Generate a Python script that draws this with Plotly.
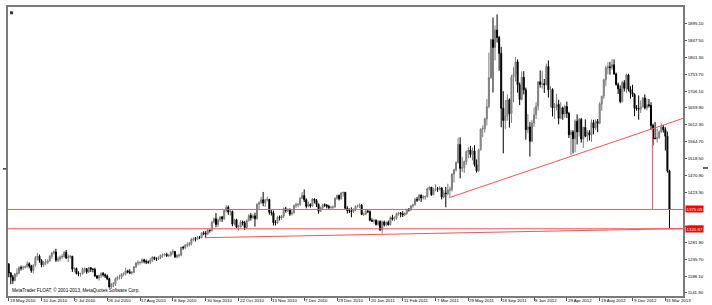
import plotly.graph_objects as go

# ---------------- data (XAUUSD, daily May 2010 - Mar 2011, then weekly to Apr 2013) ----------------
opens = [1222,1197,1186,1176,1194,1197,1212,1211,1213,1215,1223,1217,1204,1219,1240,1244,1232,1220,1227,1227,
         1231,1244,1253,1256,1233,1236,1242,1243,1255,1239,1242,1244,1208,1210,1196,1194,1195,1208,1209,1200,
         1212,1208,1207,1189,1183,1190,1196,1192,1189,1181,1158,1165,1167,1181,1185,1186,1194,1196,1203,1200,
         1197,1199,1214,1225,1226,1227,1234,1230,1228,1227,1233,1241,1238,1237,1240,1247,1248,1249,1246,1247,
         1255,1257,1242,1246,1247,1269,1268,1275,1276,1279,1291,1293,1292,1297,1296,1309,1308,1307,1317,1316,
         1340,1349,1333,1346,1354,1349,1372,1381,1368,1369,1334,1346,1325,1326,1340,1338,1324,1344,1358,1352,
         1357,1349,1389,1394,1402,1393,1402,1403,1367,1366,1338,1337,1353,1352,1357,1377,1372,1375,1362,1366,
         1386,1388,1389,1406,1414,1402,1384,1389,1385,1404,1400,1389,1370,1379,1388,1387,1384,1380,1381,1382,
         1406,1414,1405,1421,1423,1378,1372,1371,1369,1375,1384,1385,1387,1361,1362,1370,1369,1345,1342,1344,
         1333,1342,1318,1340,1332,1339,1332,1352,1348,1350,1364,1365,1363,1360,1364,1375,1374,1385,1388,1403,
         1401,1415,1407,1410,1411,1433,1437,1416,1430,1433,1432,1435,1410,
         1421,1419,1429,1431,1474,1486,1506,1557,1490,1492,1509,1537,1541,1529,1539,1500,1483,1542,1600,1601,
         1628,1663,1744,1850,1828,1877,1856,1812,1658,1624,1636,1682,1643,1745,1753,1788,1724,1683,1745,1710,
         1598,1606,1566,1617,1640,1664,1732,1725,1727,1724,1775,1710,1711,1659,1663,1669,1630,1659,1642,1663,
         1644,1584,1592,1573,1622,1592,1627,1572,1605,1580,1590,1584,1618,1603,1621,1616,1670,1692,1738,1771,
         1774,1772,1780,1754,1724,1712,1677,1730,1714,1751,1711,1702,1697,1658,1657,1656,1662,1687,1659,1668,
         1666,1610,1574,1573,1576,1592,1606,1598,1580,1483]
highs = [1225,1200,1192,1197,1210,1216,1218,1218,1218,1230,1227,1220,1221,1245,1253,1249,1236,1230,1236,1235,
         1247,1256,1261,1265,1243,1246,1250,1259,1262,1249,1248,1245,1213,1212,1202,1198,1212,1213,1211,1214,
         1214,1211,1212,1192,1193,1199,1200,1196,1193,1184,1170,1172,1185,1189,1192,1197,1199,1212,1206,1208,
         1203,1217,1228,1233,1230,1238,1237,1235,1232,1240,1244,1243,1241,1244,1249,1252,1253,1254,1250,1258,
         1264,1259,1250,1251,1271,1273,1278,1283,1284,1295,1297,1298,1300,1301,1312,1314,1315,1321,1319,1342,
         1352,1365,1350,1356,1357,1374,1387,1386,1375,1372,1349,1349,1332,1345,1344,1343,1347,1362,1365,1362,
         1366,1393,1398,1410,1424,1405,1411,1405,1373,1372,1345,1357,1358,1360,1381,1382,1378,1378,1373,1389,
         1394,1393,1410,1424,1431,1406,1397,1392,1407,1406,1404,1392,1383,1391,1392,1390,1388,1384,1386,1409,
         1416,1417,1424,1424,1424,1384,1378,1381,1378,1386,1389,1392,1390,1366,1375,1375,1372,1350,1348,1348,
         1345,1344,1344,1344,1342,1344,1356,1360,1356,1366,1368,1368,1370,1367,1377,1379,1387,1391,1408,1410,
         1418,1417,1415,1414,1436,1440,1438,1436,1445,1438,1440,1437,1429,
         1438,1447,1439,1476,1489,1510,1576,1577,1522,1512,1540,1549,1553,1548,1555,1515,1545,1602,1610,1632,
         1684,1814,1853,1912,1890,1921,1861,1830,1706,1681,1697,1686,1752,1773,1802,1795,1730,1761,1762,1716,
         1642,1620,1626,1660,1675,1734,1764,1763,1740,1783,1792,1720,1714,1673,1699,1682,1675,1663,1668,1677,
         1648,1598,1597,1627,1641,1631,1631,1606,1627,1597,1597,1627,1626,1627,1628,1675,1693,1741,1777,1787,
         1788,1796,1795,1758,1730,1722,1735,1737,1755,1755,1720,1724,1700,1667,1694,1680,1690,1697,1685,1684,
         1675,1615,1620,1601,1596,1616,1611,1605,1593,1486]
lows = [1185,1166,1167,1174,1186,1193,1204,1205,1210,1212,1210,1198,1196,1215,1233,1226,1213,1214,1219,1222,
        1229,1237,1249,1228,1228,1230,1236,1240,1236,1228,1238,1200,1199,1193,1188,1187,1193,1198,1195,1197,
        1200,1199,1186,1180,1176,1183,1187,1183,1177,1156,1155,1157,1161,1176,1179,1180,1189,1190,1196,1194,
        1193,1196,1211,1218,1220,1224,1224,1222,1223,1222,1228,1233,1231,1233,1236,1240,1243,1242,1241,1243,
        1248,1239,1238,1240,1244,1262,1264,1269,1271,1274,1286,1285,1289,1292,1294,1303,1295,1303,1310,1313,
        1336,1325,1326,1340,1340,1346,1366,1360,1358,1328,1330,1322,1316,1324,1330,1318,1320,1341,1344,1348,
        1327,1347,1375,1390,1384,1382,1397,1360,1358,1330,1330,1334,1344,1346,1351,1366,1368,1357,1358,1363,
        1379,1381,1385,1404,1396,1378,1381,1380,1383,1392,1382,1363,1368,1374,1382,1378,1376,1377,1376,1380,
        1402,1400,1402,1411,1376,1364,1365,1353,1365,1370,1380,1379,1359,1357,1359,1365,1342,1340,1335,1330,
        1328,1315,1308,1327,1328,1330,1330,1344,1342,1346,1358,1353,1354,1356,1360,1369,1371,1380,1386,1396,
        1399,1396,1403,1402,1408,1428,1413,1415,1426,1424,1428,1403,1406,
        1381,1415,1410,1425,1450,1481,1504,1462,1480,1477,1500,1518,1520,1512,1495,1478,1480,1540,1577,1590,
        1610,1658,1740,1702,1792,1842,1763,1605,1532,1600,1623,1604,1617,1675,1733,1702,1667,1680,1697,1570,
        1588,1523,1563,1606,1628,1652,1716,1713,1701,1722,1688,1661,1635,1628,1652,1613,1628,1626,1632,1631,
        1575,1527,1532,1535,1557,1579,1562,1547,1577,1564,1568,1564,1585,1597,1591,1614,1651,1685,1720,1753,
        1752,1765,1752,1722,1698,1672,1674,1705,1701,1705,1685,1690,1636,1651,1626,1645,1660,1655,1652,1660,
        1598,1554,1572,1562,1572,1590,1590,1540,1478,1321]
closes = [1197,1186,1176,1194,1197,1212,1211,1213,1215,1223,1217,1204,1219,1240,1244,1232,1220,1227,1227,1231,
          1244,1253,1256,1233,1236,1242,1243,1255,1239,1242,1244,1208,1210,1196,1194,1195,1208,1209,1200,1212,
          1208,1207,1189,1183,1190,1196,1192,1189,1181,1158,1165,1167,1181,1185,1186,1194,1196,1203,1200,1197,
          1199,1214,1225,1226,1227,1234,1230,1228,1227,1233,1241,1238,1237,1240,1247,1248,1249,1246,1247,1255,
          1257,1242,1246,1247,1269,1268,1275,1276,1279,1291,1293,1292,1297,1296,1309,1308,1307,1317,1316,1340,
          1349,1333,1346,1354,1349,1372,1381,1368,1369,1334,1346,1325,1326,1340,1338,1324,1344,1358,1352,1357,
          1349,1389,1394,1402,1393,1402,1403,1367,1366,1338,1337,1353,1352,1357,1377,1372,1375,1362,1366,1386,
          1388,1389,1406,1414,1402,1384,1389,1385,1404,1400,1389,1370,1379,1388,1387,1384,1380,1381,1382,1406,
          1414,1405,1421,1423,1378,1372,1371,1369,1375,1384,1385,1387,1361,1362,1370,1369,1345,1342,1344,1333,
          1342,1318,1340,1332,1339,1332,1352,1348,1350,1364,1365,1363,1360,1364,1375,1374,1385,1388,1403,1401,
          1415,1407,1410,1411,1433,1437,1416,1430,1433,1432,1435,1410,1421,
          1419,1429,1431,1474,1486,1506,1557,1490,1492,1509,1537,1541,1529,1539,1500,1483,1542,1600,1601,1628,
          1663,1744,1850,1828,1877,1856,1812,1658,1624,1636,1682,1643,1745,1753,1788,1724,1683,1745,1710,1598,
          1606,1566,1617,1640,1664,1732,1725,1727,1724,1775,1710,1711,1659,1663,1669,1630,1659,1642,1663,1644,
          1584,1592,1573,1622,1592,1627,1572,1605,1580,1590,1584,1618,1603,1621,1616,1670,1692,1738,1771,1774,
          1772,1780,1754,1724,1712,1677,1730,1714,1751,1711,1702,1697,1658,1657,1656,1662,1687,1659,1668,1666,
          1610,1574,1573,1576,1592,1606,1598,1580,1483,1375]
bar_index = list(range(len(closes)))

x_tick_positions = [0, 16, 32, 48, 64, 80, 96, 112, 128, 144, 160, 176, 192, 208, 224, 240, 256, 272, 288, 304, 320]
x_tick_labels = ["19 May 2010", "10 Jun 2010", "2 Jul 2010", "26 Jul 2010", "17 Aug 2010", "8 Sep 2010",
                 "30 Sep 2010", "22 Oct 2010", "15 Nov 2010", "7 Dec 2010", "29 Dec 2010", "20 Jan 2011",
                 "11 Feb 2011", "7 Mar 2011", "29 May 2011", "18 Sep 2011", "8 Jan 2012", "29 Apr 2012",
                 "19 Aug 2012", "9 Dec 2012", "31 Mar 2013"]
y_tick_values = [1141.90, 1188.10, 1235.70, 1281.90, 1328.50, 1423.30, 1470.90, 1518.50, 1564.70,
                 1612.30, 1659.90, 1706.10, 1753.70, 1801.30, 1847.50, 1895.10]
y_tick_labels = ["%.2f" % v for v in y_tick_values]

# user-drawn objects
price_levels = [1375.05, 1320.87]
upper_trend_x = [214.6, 328.8]
upper_trend_y = [1407.9, 1630.3]
lower_trend_x = [95.6, 328.8]
lower_trend_y = [1295.9, 1321.5]
vline_x = 313.7
vline_y = [1375.05, 1600.9]

RED = "#ff5050"

fig = go.Figure()
fig.add_trace(go.Candlestick(
    x=bar_index, open=opens, high=highs, low=lows, close=closes,
    increasing=dict(line=dict(color="#7d7d7d", width=1), fillcolor="#9a9a9a"),
    decreasing=dict(line=dict(color="#000000", width=1), fillcolor="#000000"),
    whiskerwidth=0, hoverinfo="skip", showlegend=False,
))

shapes = []
for lv in price_levels:
    shapes.append(dict(type="line", xref="paper", x0=0, x1=1, yref="y", y0=lv, y1=lv,
                       line=dict(color=RED, width=1)))
shapes.append(dict(type="line", xref="x", yref="y", x0=upper_trend_x[0], x1=upper_trend_x[1],
                   y0=upper_trend_y[0], y1=upper_trend_y[1], line=dict(color=RED, width=1)))
shapes.append(dict(type="line", xref="x", yref="y", x0=lower_trend_x[0], x1=lower_trend_x[1],
                   y0=lower_trend_y[0], y1=lower_trend_y[1], line=dict(color=RED, width=1)))
shapes.append(dict(type="line", xref="x", yref="y", x0=vline_x, x1=vline_x,
                   y0=vline_y[0], y1=vline_y[1], line=dict(color=RED, width=1)))
# small chart-window decorations
shapes.append(dict(type="rect", xref="paper", yref="paper", x0=0.003, x1=0.0075, y0=0.975, y1=0.985,
                   fillcolor="#333", line=dict(width=0)))
shapes.append(dict(type="line", xref="paper", yref="paper", x0=-0.0075, x1=-0.003, y0=0.44, y1=0.44,
                   line=dict(color="#333", width=1.5)))
shapes.append(dict(type="line", xref="paper", yref="paper", x0=1.0296, x1=1.037, y0=0.443, y1=0.443,
                   line=dict(color="#333", width=1.5)))

annotations = []
for pos, lab in zip(x_tick_positions, x_tick_labels):
    annotations.append(dict(x=pos, xref="x", y=0, yref="paper", text=lab, showarrow=False,
                            xanchor="left", yanchor="top", xshift=0, yshift=-1, borderpad=0,
                            font=dict(size=4.4, color="#000", family="Liberation Sans")))
for lv in price_levels:
    annotations.append(dict(x=1, xref="paper", y=lv, yref="y", text="%.2f" % lv, showarrow=False,
                            xanchor="left", yanchor="middle", xshift=2, borderpad=0.5, bgcolor="#ff0000",
                            font=dict(size=4.4, color="#ffffff", family="Liberation Sans")))
annotations.append(dict(x=0, xref="paper", y=0, yref="paper", xshift=3, yshift=2,
                        text="MetaTrader FLOAT, \u00a9 2001-2013, MetaQuotes Software Corp.",
                        showarrow=False, xanchor="left", yanchor="bottom", borderpad=0,
                        font=dict(size=4.6, color="#000", family="Liberation Sans")))

fig.update_layout(
    width=712, height=305, margin=dict(l=8, r=29, t=5, b=9),
    paper_bgcolor="white", plot_bgcolor="white", showlegend=False,
    shapes=shapes, annotations=annotations,
    font=dict(family="Liberation Sans", size=4.4, color="#000"),
)
fig.update_xaxes(range=[-0.35, 328.6], rangeslider=dict(visible=False), showgrid=False, zeroline=False,
                 showline=True, mirror=True, linecolor="#7a7a7a", linewidth=1.5,
                 tickmode="array", tickvals=x_tick_positions, ticktext=[""] * len(x_tick_positions),
                 ticks="outside", ticklen=3, tickcolor="#555", tickwidth=1)
fig.update_yaxes(range=[1132.8, 1941.5], side="right", showgrid=False, zeroline=False,
                 showline=True, mirror=True, linecolor="#7a7a7a", linewidth=1.5,
                 tickmode="array", tickvals=y_tick_values, ticktext=y_tick_labels,
                 ticks="outside", ticklen=2, tickcolor="#555", tickwidth=1,
                 tickfont=dict(size=4.4, color="#000", family="Liberation Sans"))

fig.write_html("out.html")
